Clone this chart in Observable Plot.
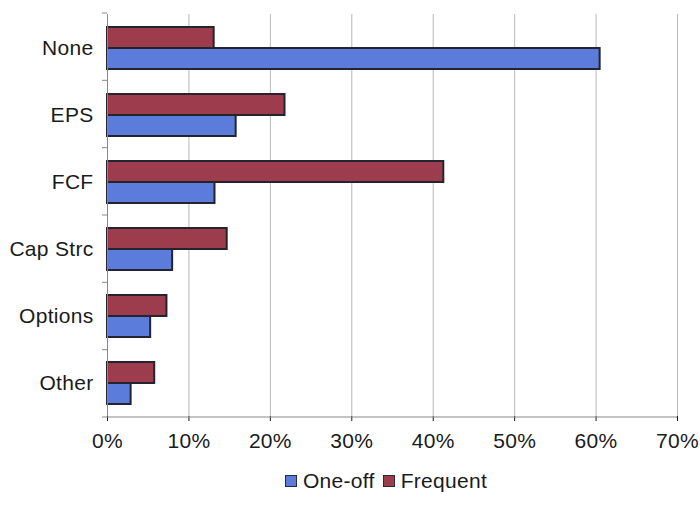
<!DOCTYPE html>
<html>
<head>
<meta charset="utf-8">
<script src="https://cdn.jsdelivr.net/npm/d3@7"></script>
<script src="https://cdn.jsdelivr.net/npm/@observablehq/plot@0.6"></script>
<style>
  html, body { margin: 0; padding: 0; background: #fff; }
  body { width: 700px; height: 519px; overflow: hidden; font-family: "Liberation Sans", Arial, sans-serif; }
  #chart svg { display: block; }
  .legend { display: flex; justify-content: center; align-items: center;
            font-size: 21px; color: #1a1a1a; margin-top: 9px; padding-left: 80px; letter-spacing: 0.3px; }
  .legend .sw { width: 10px; height: 10px; border: 1.5px solid #2a2a35; display: inline-block; margin-right: 6px; }
  .legend .item { display: flex; align-items: center; margin-right: 8px; }
</style>
</head>
<body>
<div id="chart"></div>
<div class="legend" id="legend"></div>
<script>
// Share of respondents by measure, for one-off and frequent cases
const categories = ["None", "EPS", "FCF", "Cap Strc", "Options", "Other"];
const oneOff   = [0.605, 0.158, 0.132, 0.080, 0.053, 0.029];
const frequent = [0.131, 0.218, 0.413, 0.147, 0.073, 0.058];
const seriesNames = ["Frequent", "One-off"];
const seriesColors = ["#9c3c4d", "#5b7cdb"];
const xTicks = [0, 0.1, 0.2, 0.3, 0.4, 0.5, 0.6, 0.7];

const rows = categories.flatMap((c, i) => [
  {category: c, series: "Frequent", value: frequent[i]},
  {category: c, series: "One-off", value: oneOff[i]}
]);

const W = 700, H = 460, ML = 107, MR = 23, MT = 13, MB = 43;

const chart = Plot.plot({
  width: W,
  height: H,
  marginLeft: ML,
  marginRight: MR,
  marginTop: MT,
  marginBottom: MB,
  style: {fontFamily: "'Liberation Sans', Arial, sans-serif", fontSize: "21px", color: "#1a1a1a", letterSpacing: "0.3px"},
  x: {domain: [0, 0.7], ticks: xTicks, tickFormat: d3.format(".0%"), label: null,
      tickSize: 5, tickPadding: 12},
  y: {domain: seriesNames, label: null, axis: null, paddingInner: 0, paddingOuter: 0.58},
  fy: {domain: categories, label: null, padding: 0},
  color: {domain: seriesNames, range: seriesColors},
  marks: [
    Plot.gridX(xTicks.slice(1), {stroke: "#9a9a9a", strokeOpacity: 0.7, strokeWidth: 1}),
    Plot.barX(rows, {
      fy: "category",
      y: "series",
      x: "value",
      fill: "series",
      stroke: "#24242e",
      strokeWidth: 2,
      inset: 0
    }),
    Plot.axisFy({anchor: "left", tickSize: 0, tickPadding: 14, fontSize: 21, label: null}),
    Plot.ruleX([0], {stroke: "#888", strokeWidth: 1})
  ]
});

// Category-axis tick marks between bands, and the value-axis baseline
const svg = d3.select(chart);
const plotBottom = H - MB;
const band = (plotBottom - MT) / categories.length;
d3.range(categories.length + 1).forEach(i => {
  const y = MT + i * band;
  svg.append("line").attr("x1", ML - 5).attr("x2", ML).attr("y1", y).attr("y2", y)
    .attr("stroke", "#888").attr("stroke-width", 1);
});
svg.append("line").attr("x1", ML).attr("x2", W - MR).attr("y1", plotBottom).attr("y2", plotBottom)
  .attr("stroke", "#888").attr("stroke-width", 1);

document.getElementById("chart").appendChild(chart);

const legend = document.getElementById("legend");
[["One-off", seriesColors[1]], ["Frequent", seriesColors[0]]].forEach(([name, col]) => {
  const item = document.createElement("span");
  item.className = "item";
  const sw = document.createElement("span");
  sw.className = "sw";
  sw.style.background = col;
  item.appendChild(sw);
  item.appendChild(document.createTextNode(name));
  legend.appendChild(item);
});
</script>
</body>
</html>
